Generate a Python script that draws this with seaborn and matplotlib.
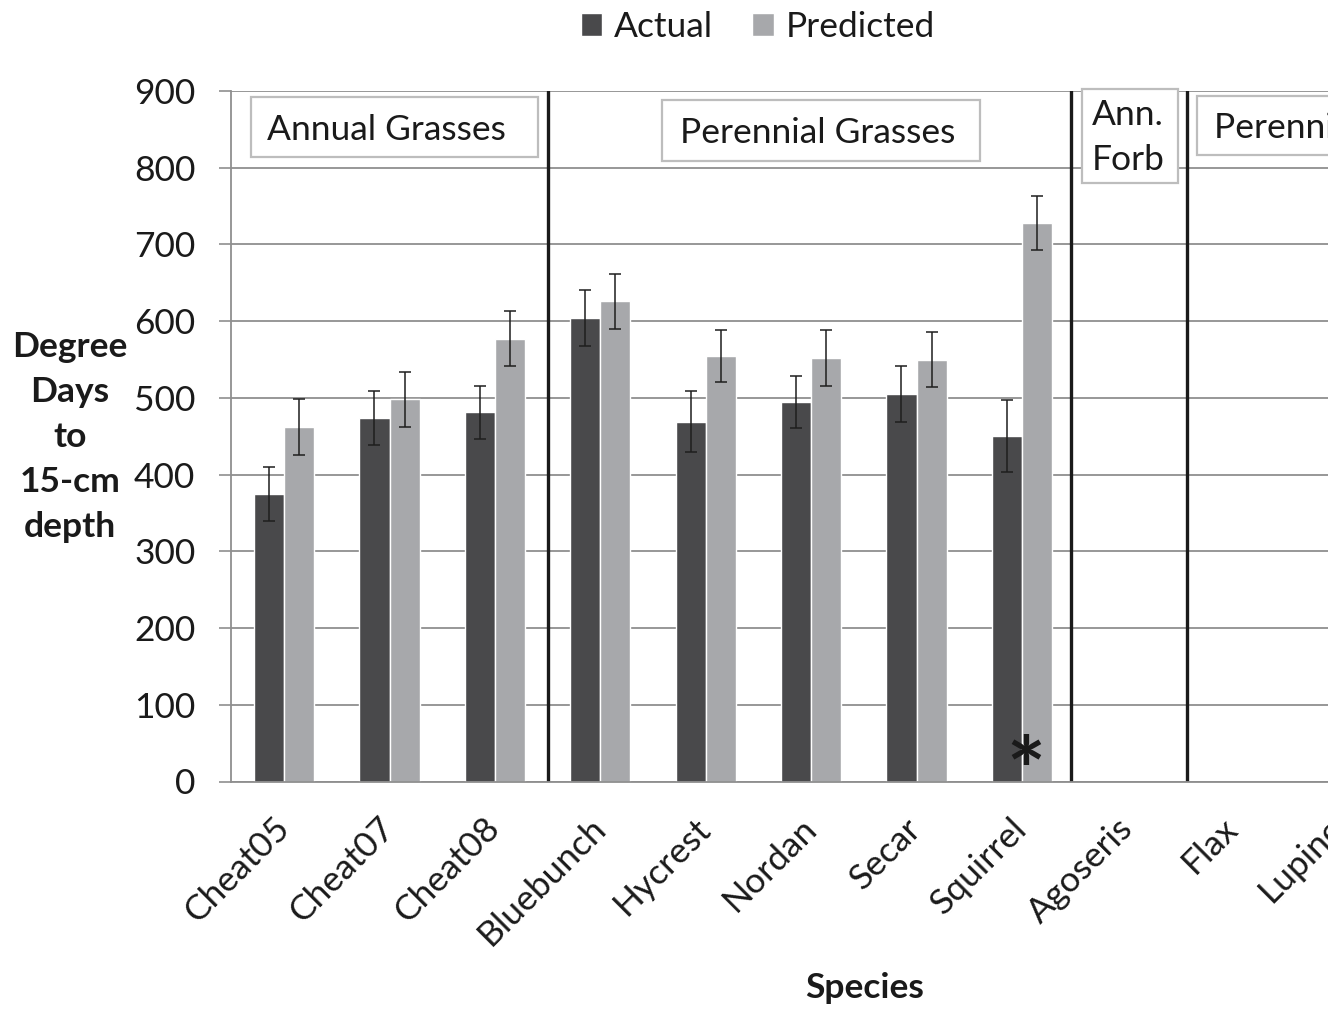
import numpy as np
import pandas as pd
import seaborn as sns
import matplotlib.pyplot as plt
from matplotlib.patches import Rectangle

species = ['Cheat05', 'Cheat07', 'Cheat08', 'Bluebunch', 'Hycrest', 'Nordan',
           'Secar', 'Squirrel', 'Agoseris', 'Flax', 'Lupine']
measured = ['Cheat05', 'Cheat07', 'Cheat08', 'Bluebunch', 'Hycrest', 'Nordan',
            'Secar', 'Squirrel']
actual = [375, 474, 481, 604, 469, 495, 505, 450]
predicted = [462, 498, 577, 626, 555, 552, 550, 728]
actual_err = [35, 35, 35, 36, 40, 34, 36, 47]
predicted_err = [36, 36, 36, 36, 34, 36, 36, 35]
group_lines = [2.5, 7.47, 8.57]

W, H = 1328, 1011
FS = 25.5
sns.set_style('white')
plt.rcParams['font.family'] = ['Lato', 'DejaVu Sans']

df = pd.DataFrame({
    'species': measured * 2,
    'days': actual + predicted,
    'series': ['Actual'] * len(measured) + ['Predicted'] * len(measured),
})

fig = plt.figure(figsize=(W / 100, H / 100), dpi=100)
ax = fig.add_axes([231.4 / W, 1 - 781.5 / H, 1159.4 / W, 690.5 / H])

sns.barplot(data=df, x='species', y='days', hue='series', order=species,
            palette={'Actual': '#49494b', 'Predicted': '#a7a8ab'},
            width=0.57, gap=0, errorbar=None, saturation=1, ax=ax, legend=True)

# error bars on the bar centres
for cont, errs in zip(ax.containers, [actual_err, predicted_err]):
    xs = [b.get_x() + b.get_width() / 2 for b in cont.patches]
    ys = [b.get_height() for b in cont.patches]
    ax.errorbar(xs, ys, yerr=errs, fmt='none', ecolor='#1e1e1e',
                elinewidth=1.1, capsize=4, capthick=1.1)

ax.set_xlim(-0.5, len(species) - 0.5)
ax.set_ylim(0, 900)
ax.set_yticks(range(0, 901, 100))
ax.yaxis.grid(True, color='#8f8f8f', lw=1.3)
ax.set_axisbelow(True)
for s in ['top', 'right']:
    ax.spines[s].set_visible(False)
for s in ['left', 'bottom']:
    ax.spines[s].set_color('#8f8f8f')
    ax.spines[s].set_linewidth(1.3)

ax.set_xticks(np.arange(-0.5, len(species), 1), minor=True)
ax.tick_params(axis='x', which='minor', length=9, width=1.2, color='#8f8f8f', direction='out')
ax.tick_params(axis='x', which='major', length=0, pad=30)
ax.tick_params(axis='y', length=9, width=1.2, color='#8f8f8f', direction='out',
               left=True, labelsize=FS, pad=17, labelcolor='#1a1a1a')
ax.set_xticks(range(len(species)))
ax.set_xticklabels(species, rotation=45, ha='right', va='center',
                   rotation_mode='anchor', fontsize=FS, color='#1a1a1a')
ax.set_xlabel('')
ax.set_ylabel('')

for x in group_lines:
    ax.axvline(x, color='#1a1a1a', lw=2.4)

ax.text(7.04, 5, '*', fontsize=66, fontweight='bold', ha='center', va='center',
        color='#1a1a1a')

# category boxes
boxes = [(250.7, 97.3, 537.8, 156.7), (661.5, 100, 980, 161.3),
         (1082, 88.7, 1178, 183.3), (1196.7, 96, 1400, 155.3)]
for x0, y0, x1, y1 in boxes:
    fig.add_artist(Rectangle((x0 / W, 1 - y1 / H), (x1 - x0) / W, (y1 - y0) / H,
                             transform=fig.transFigure, facecolor='white',
                             edgecolor='#bdbdbd', lw=1.6))
txt = dict(fontsize=FS, color='#1a1a1a', va='center')
fig.text(386 / W, 1 - 130 / H, 'Annual Grasses', ha='center', **txt)
fig.text(818 / W, 1 - 133 / H, 'Perennial Grasses', ha='center', **txt)
fig.text(1128 / W, 1 - 115 / H, 'Ann.', ha='center', **txt)
fig.text(1128 / W, 1 - 160 / H, 'Forb', ha='center', **txt)
fig.text(1214 / W, 1 - 128 / H, 'Perennial Forbs', ha='left', **txt)

fig.text(70 / W, 1 - 437 / H, 'Degree\nDays\nto\n15-cm\ndepth', ha='center', va='center',
         fontsize=FS, fontweight='bold', linespacing=1.5, color='#1a1a1a')
fig.text(865 / W, 1 - 988 / H, 'Species', ha='center', va='center',
         fontsize=FS, fontweight='bold', color='#1a1a1a')

handles, labels = ax.get_legend_handles_labels()
ax.get_legend().remove()
fig.legend(handles, labels, loc='center', bbox_to_anchor=(758 / W, 1 - 27 / H), ncol=2,
           frameon=False, fontsize=FS, handlelength=0.6, handleheight=0.6,
           handletextpad=0.35, columnspacing=1.1, labelcolor='#1a1a1a')

fig.savefig('out.png', dpi=100)
